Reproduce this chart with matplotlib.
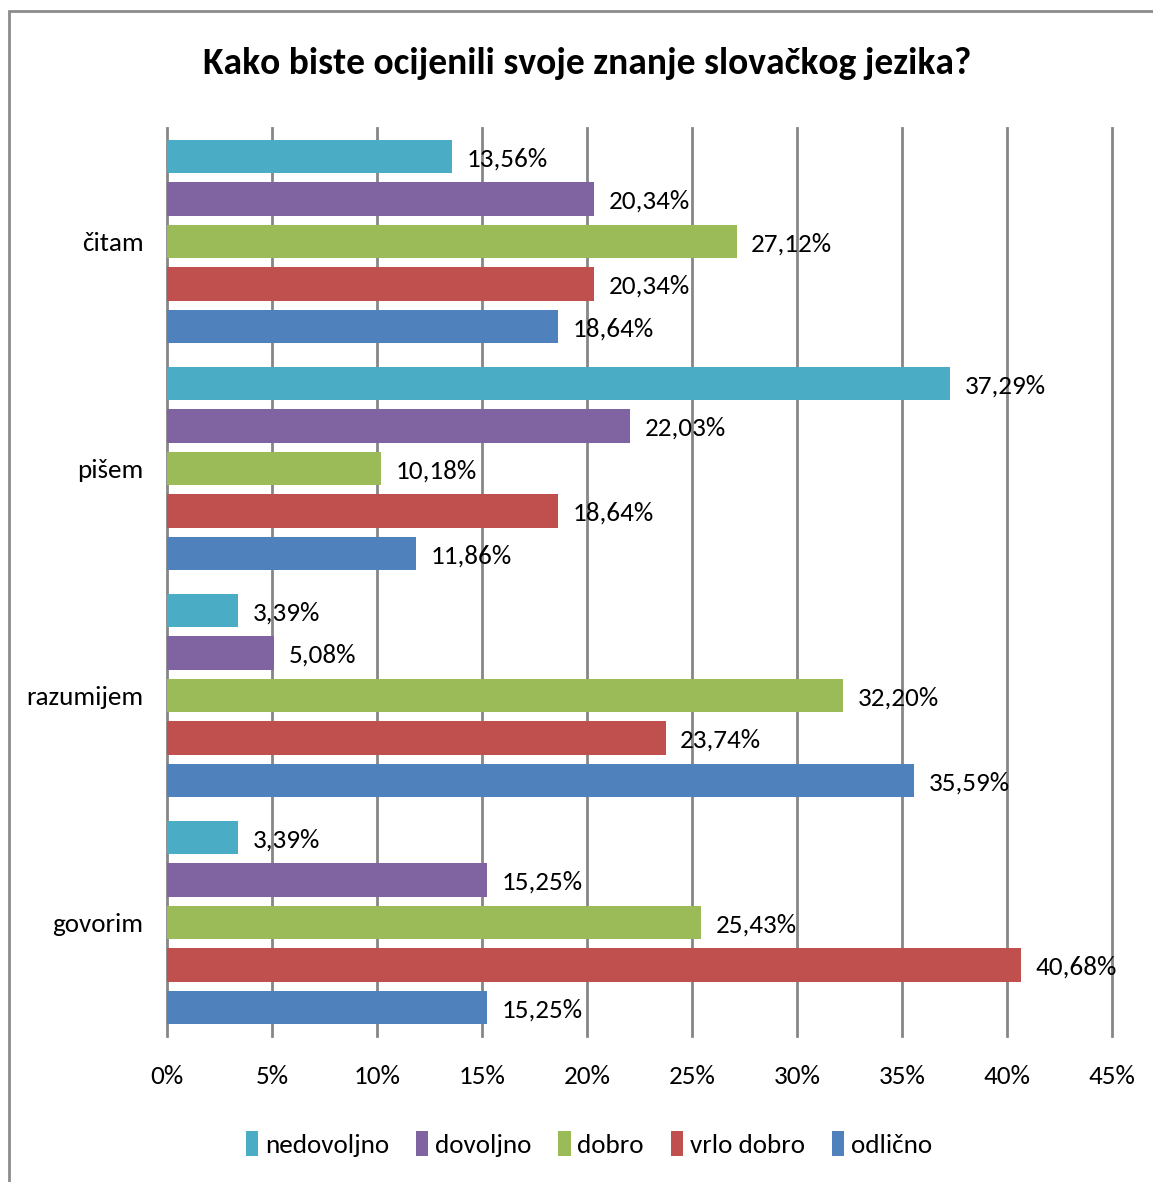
import numpy as np
import matplotlib.pyplot as plt
from matplotlib.patches import Rectangle
from matplotlib import font_manager

# kategorije i serije
kategorije = ['čitam', 'pišem', 'razumijem', 'govorim']
serije = ['nedovoljno', 'dovoljno', 'dobro', 'vrlo dobro', 'odlično']
nedovoljno = [13.56, 37.29, 3.39, 3.39]
dovoljno = [20.34, 22.03, 5.08, 15.25]
dobro = [27.12, 10.18, 32.20, 25.43]
vrlo_dobro = [20.34, 18.64, 23.74, 40.68]
odlicno = [18.64, 11.86, 35.59, 15.25]
boje = ['#4BACC6', '#8064A2', '#9BBB59', '#C0504D', '#4F81BD']
x_tickovi = [0, 5, 10, 15, 20, 25, 30, 35, 40, 45]

imena = {f.name for f in font_manager.fontManager.ttflist}
font = 'DejaVu Sans'
for kandidat in ['Carlito', 'Liberation Sans Narrow', 'Roboto Condensed',
                 'Open Sans Condensed', 'Lato']:
    if kandidat in imena:
        font = kandidat
        break
plt.rcParams['font.family'] = [font, 'DejaVu Sans']
vel = 19.5

fig = plt.figure(figsize=(11.53, 11.82), dpi=100)
ax = fig.add_axes([167 / 1153, 1 - 1036 / 1182, (1112 - 167) / 1153, (1036 - 128) / 1182])

# okvir oko slike
fig.patches.append(Rectangle((9 / 1153, -0.01), 1.0, 1 - 11 / 1182 + 0.01,
                             transform=fig.transFigure, fill=False,
                             edgecolor='#8c8c8c', linewidth=2, zorder=-1))

podaci = [nedovoljno, dovoljno, dobro, vrlo_dobro, odlicno]
y = np.arange(len(kategorije))
korak = 0.187
visina = 0.147
for i, (ime, vrijednosti) in enumerate(zip(serije, podaci)):
    pozicije = y + (i - 2) * korak
    ax.barh(pozicije, vrijednosti, height=visina, color=boje[i], label=ime, zorder=2)
    for p, v in zip(pozicije, vrijednosti):
        ax.text(v + 0.7, p + 0.01, ('%.2f%%' % v).replace('.', ','),
                va='center', ha='left', fontsize=vel, zorder=3)

ax.set_ylim(len(kategorije) - 0.5, -0.5)
ax.set_xlim(0, 45)
ax.set_xticks(x_tickovi)
ax.set_xticklabels(['%d%%' % t for t in x_tickovi], fontsize=vel)
ax.set_yticks(y)
ax.set_yticklabels(kategorije, fontsize=vel)
ax.tick_params(axis='both', length=0)
ax.tick_params(axis='x', pad=21)
ax.tick_params(axis='y', pad=17)
for t in x_tickovi:
    ax.axvline(t, color='#868686', linewidth=2, zorder=0, clip_on=False)
for s in ax.spines.values():
    s.set_visible(False)

fig.text(587 / 1153, 1 - 64 / 1182, 'Kako biste ocijenili svoje znanje slovačkog jezika?',
         ha='center', va='center', fontsize=27, fontweight='bold')

ax.legend(loc='center', bbox_to_anchor=(589 / 1153, 1 - 1144 / 1182),
          bbox_transform=fig.transFigure, ncol=5, frameon=False, fontsize=vel,
          handlelength=0.45, handleheight=1.0, handletextpad=0.25, columnspacing=1.0)

fig.savefig('out.png', dpi=100)
